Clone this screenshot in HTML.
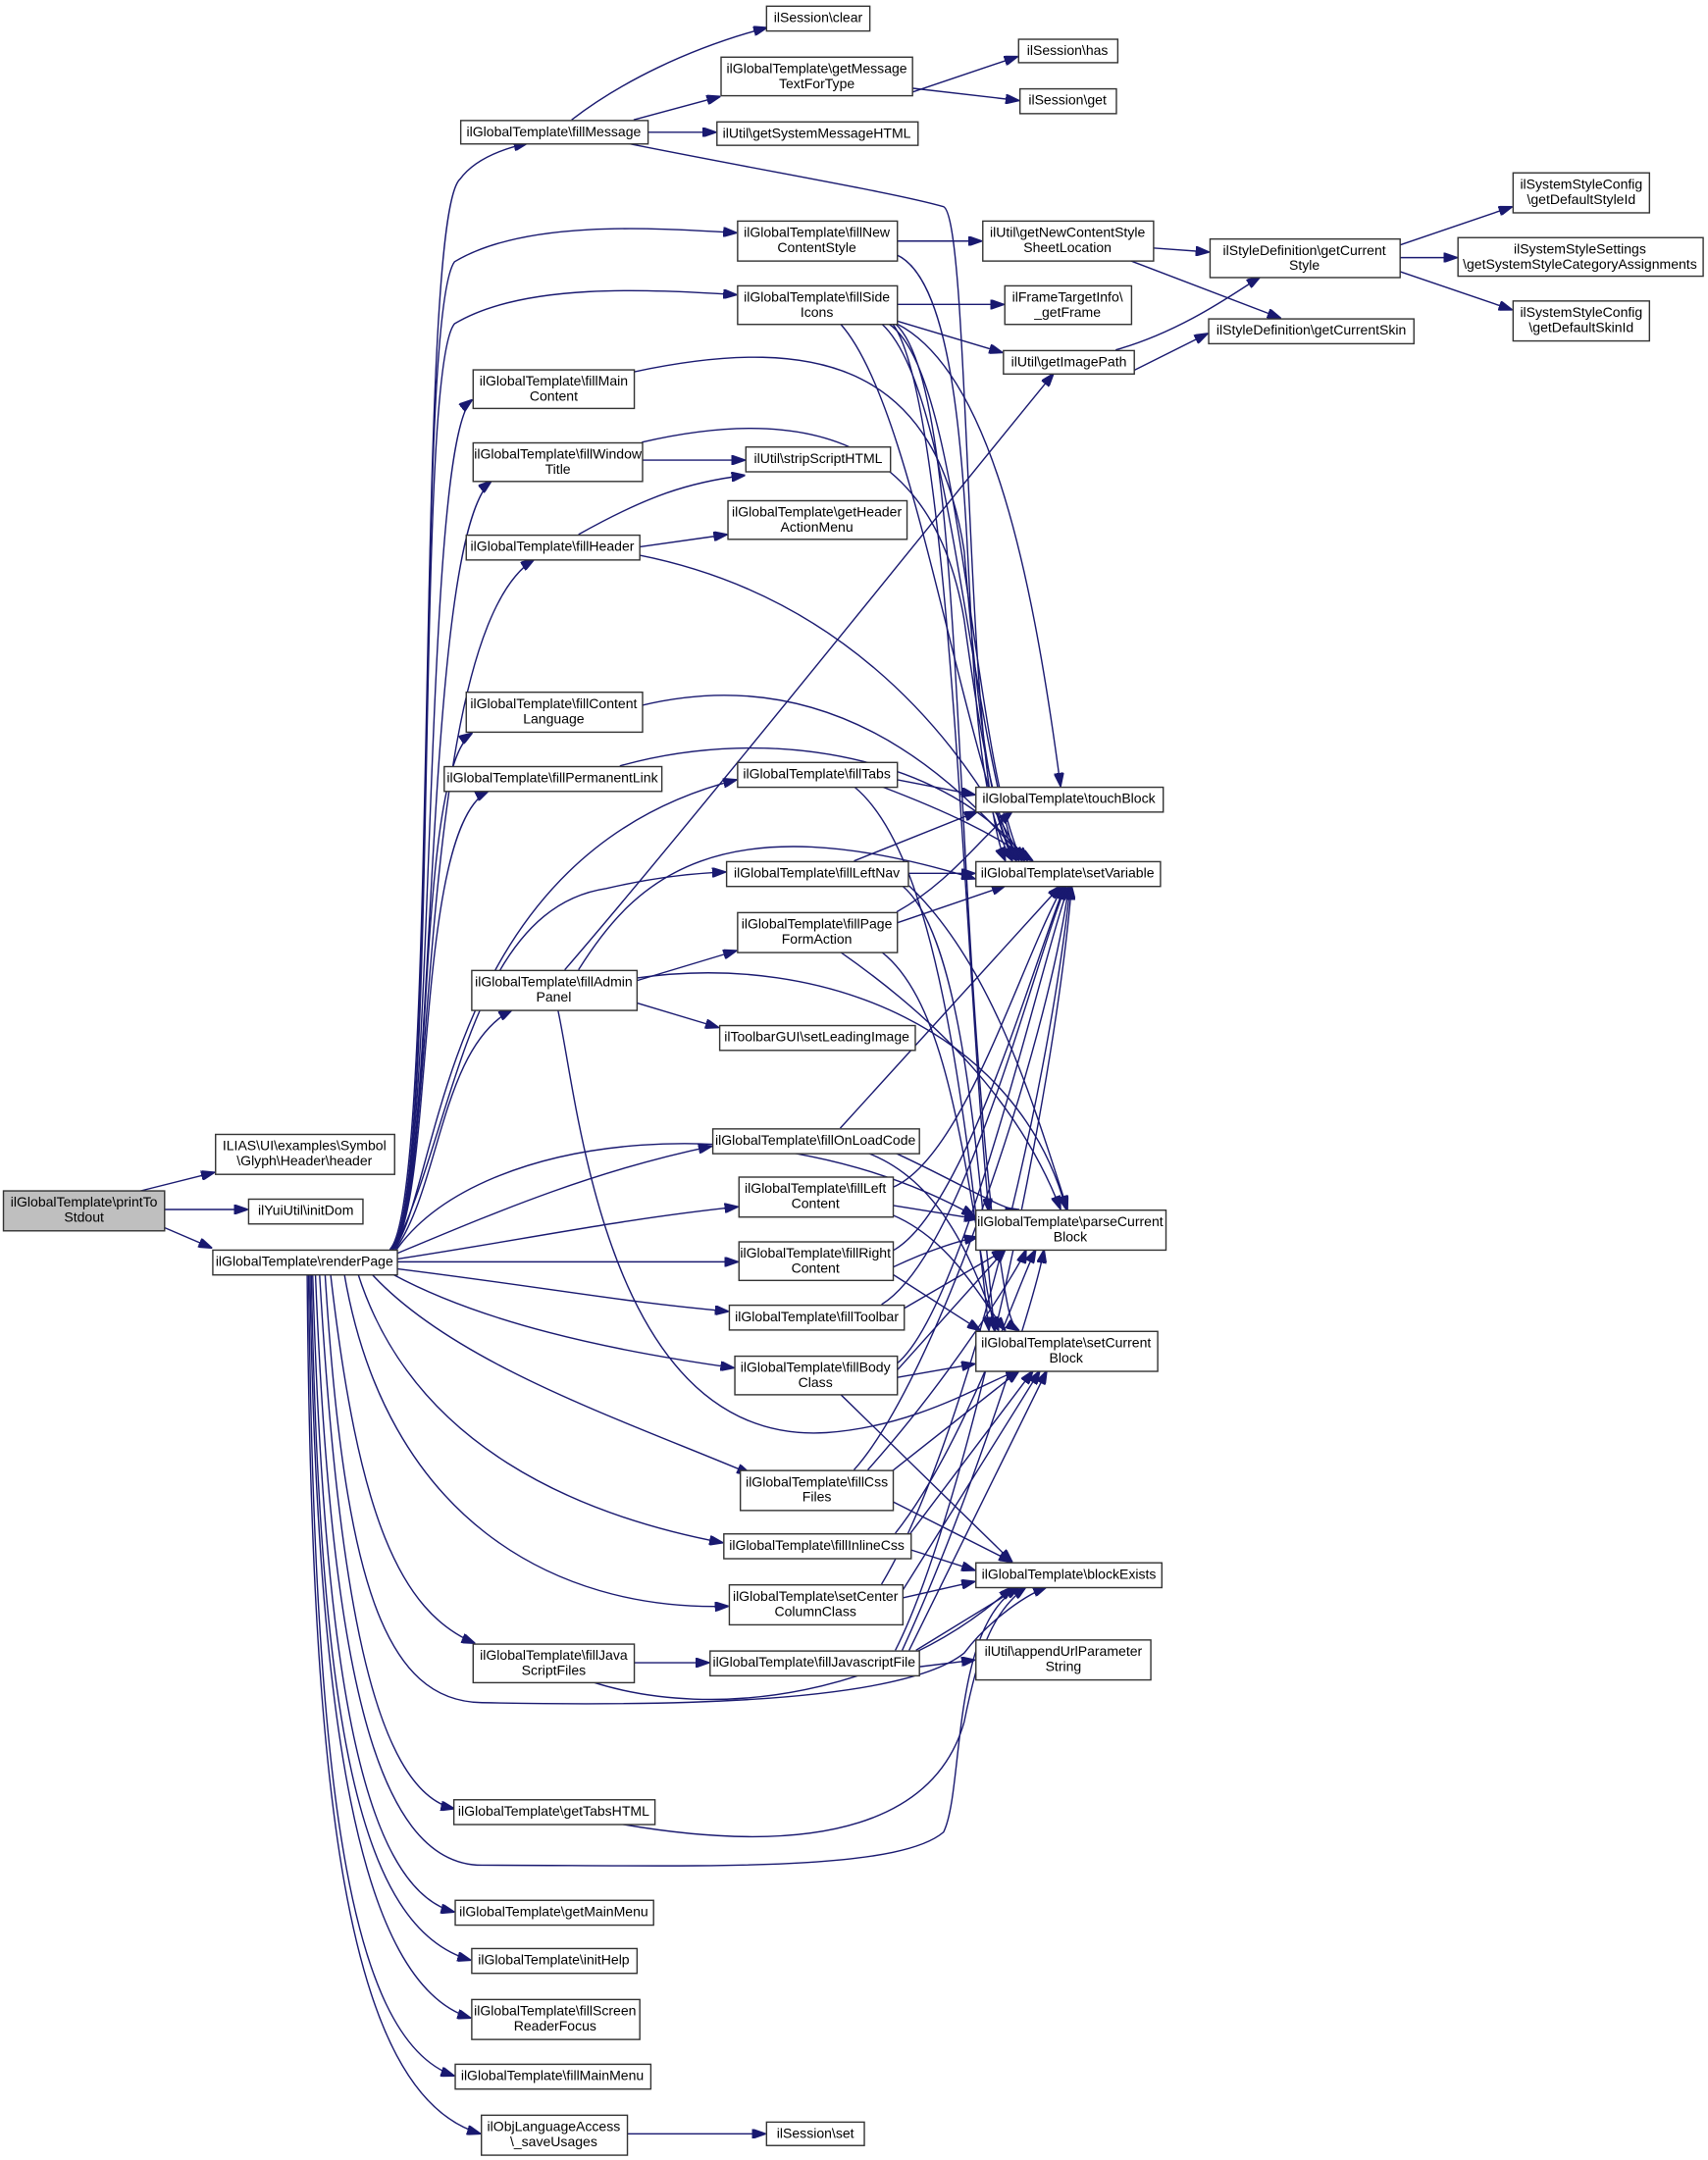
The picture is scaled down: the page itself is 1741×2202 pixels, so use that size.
<!DOCTYPE html>
<html><head><meta charset="utf-8"><style>
html,body{margin:0;padding:0;background:#fff;}
svg{display:block;}
text{font-family:"Liberation Sans",Arial,sans-serif;font-size:10px;fill:#000;}
.n{fill:#fff;stroke:#333;stroke-width:1;}
.e{fill:none;stroke:#191970;stroke-width:1;}
</style></head><body>
<svg width="1741" height="2202" viewBox="0 0 1240 1568" preserveAspectRatio="none" xmlns="http://www.w3.org/2000/svg">
<defs><marker id="a" markerWidth="10" markerHeight="7" refX="10" refY="3.5" orient="auto" markerUnits="userSpaceOnUse"><path d="M0,0 L10,3.5 L0,7 z" fill="#191970" stroke="#191970"/></marker></defs>
<g class="e" marker-end="url(#a)">
<!-- printToStdout -->
<path d="M100,865 L156,851"/>
<path d="M119,878 L180,878"/>
<path d="M119,891 L154,906"/>
<!-- renderPage upward -->
<path d="M283,907 C320,870 300,160 334,130 C345,115 365,108 383,104"/>
<path d="M284,907 C320,870 300,230 330,190 C380,160 470,165 535,169"/>
<path d="M284,907 C320,870 300,270 330,235 C380,205 470,210 535,214"/>
<path d="M285,907 C318,870 305,320 343,290"/>
<path d="M285,907 C318,870 305,390 357,349"/>
<path d="M285,907 C318,870 300,460 388,406"/>
<path d="M285,907 C316,870 300,560 343,532"/>
<path d="M285,907 C316,870 300,600 355,574"/>
<path d="M286,907 C320,860 320,620 535,566"/>
<path d="M286,907 C330,820 340,660 440,645 C470,638 500,634 527,633"/>
<path d="M287,907 C320,860 320,760 372,733"/>
<path d="M288,907 C350,820 560,800 708,883"/>
<path d="M288,910 C360,880 430,850 517,832"/>
<path d="M288,914 C380,900 450,885 536,876"/>
<path d="M288,916 L536,916"/>
<path d="M288,921 C400,935 450,945 529,952"/>
<path d="M285,925 C350,960 440,980 533,993"/>
<path d="M270,925 C330,990 450,1030 545,1070"/>
<path d="M260,925 C300,1050 420,1100 525,1120"/>
<path d="M250,925 C280,1100 400,1170 529,1166"/>
<path d="M240,925 C260,1100 290,1170 345,1193"/>
<path d="M236,925 C250,1150 280,1235 350,1236 C450,1238 650,1240 700,1200 C715,1180 740,1160 760,1152"/>
<path d="M232,925 C245,1150 270,1300 330,1313"/>
<path d="M229,925 C240,1200 270,1354 350,1354 C500,1354 650,1360 685,1330 C700,1300 690,1180 740,1152"/>
<path d="M227,925 C235,1200 260,1370 330,1388"/>
<path d="M226,925 C232,1250 260,1400 342,1423"/>
<path d="M225,925 C230,1250 260,1440 342,1465"/>
<path d="M224,925 C228,1280 250,1480 330,1507"/>
<path d="M223,925 C226,1300 250,1520 349,1549"/>
<!-- fillMessage -->
<path d="M415,87 C450,60 500,35 557,20"/>
<path d="M460,87 L523,70"/>
<path d="M470,96 L520,96"/>
<path d="M455,104 C560,125 650,140 685,150 C705,160 700,560 730,625"/>
<path d="M662,67 L739,41"/>
<path d="M662,64 L740,73"/>
<!-- fillNewContentStyle -->
<path d="M651,175 L713,175"/>
<path d="M651,185 C695,205 700,350 705,450 C710,560 720,600 735,625"/>
<path d="M837,180 L878,183"/>
<path d="M820,189 L930,231"/>
<!-- fillSideIcons -->
<path d="M651,221 L729,221"/>
<path d="M651,233 L728,256"/>
<path d="M651,235 C720,270 750,420 770,571"/>
<path d="M610,235 C660,290 690,500 735,625"/>
<path d="M640,235 C690,280 700,500 738,625"/>
<path d="M645,235 C700,270 705,550 742,625"/>
<path d="M650,235 C700,280 690,600 720,880 C730,930 730,960 740,966"/>
<path d="M648,235 C690,290 700,700 718,880"/>
<path d="M810,254 C860,240 900,210 915,201"/>
<path d="M823,269 L877,242"/>
<!-- getCurrentStyle -->
<path d="M1016,178 L1098,150"/>
<path d="M1016,187 L1058,187"/>
<path d="M1016,197 L1098,225"/>
<!-- col2 -->
<path d="M460,270 C600,240 680,270 700,400 C710,520 720,600 738,625"/>
<path d="M466,334 L541,334"/>
<path d="M466,321 C600,290 680,330 700,450 C715,560 725,600 740,625"/>
<path d="M420,388 C470,360 500,350 541,345"/>
<path d="M464,397 L528,388"/>
<path d="M464,403 C600,430 690,520 742,625"/>
<path d="M466,512 C600,480 690,560 744,625"/>
<path d="M450,556 C560,525 690,550 746,625"/>
<!-- fillTabs -->
<path d="M651,566 L708,577"/>
<path d="M640,571 C690,590 720,605 750,625"/>
<path d="M620,571 C680,620 700,800 718,966"/>
<!-- fillLeftNav -->
<path d="M620,625 L710,589"/>
<path d="M659,634 L708,634"/>
<path d="M660,643 C720,700 750,800 775,878"/>
<path d="M655,643 C700,680 710,850 722,966"/>
<!-- fillPageFormAction -->
<path d="M651,670 L730,643"/>
<path d="M651,662 C690,640 710,610 735,589"/>
<path d="M610,691 C680,740 740,800 770,878"/>
<path d="M640,691 C690,730 700,850 722,966"/>
<!-- fillAdminPanel -->
<path d="M462,712 L535,690"/>
<path d="M462,728 L522,746"/>
<path d="M410,704 C500,600 700,350 765,271"/>
<path d="M420,704 C460,640 520,580 708,638"/>
<path d="M462,710 C600,690 740,750 774,878"/>
<path d="M405,733 C420,800 440,1050 600,1040 C670,1035 720,1000 740,995"/>
<!-- fillOnLoadCode -->
<path d="M610,819 L770,643"/>
<path d="M650,837 C700,860 730,880 740,878"/>
<path d="M630,837 C690,860 710,930 725,966"/>
<!-- fillLeftContent -->
<path d="M648,862 C700,840 740,700 772,643"/>
<path d="M648,875 L710,885"/>
<path d="M648,882 C690,900 710,940 730,966"/>
<!-- fillRightContent -->
<path d="M648,908 C700,880 750,700 773,643"/>
<path d="M648,920 C680,905 700,900 710,898"/>
<path d="M648,925 L712,966"/>
<!-- fillToolbar -->
<path d="M640,947 C700,910 750,700 774,643"/>
<path d="M656,950 L730,907"/>
<!-- fillBodyClass -->
<path d="M651,990 C700,950 755,700 776,643"/>
<path d="M651,995 L730,907"/>
<path d="M651,1000 L708,990"/>
<path d="M610,1012 L735,1134"/>
<!-- fillCssFiles -->
<path d="M620,1067 C680,1000 760,760 776,643"/>
<path d="M630,1067 C690,1000 740,920 745,907"/>
<path d="M645,1070 L740,995"/>
<path d="M648,1090 L735,1134"/>
<!-- fillInlineCss -->
<path d="M661,1113 L750,995"/>
<path d="M650,1113 C700,1050 740,930 752,907"/>
<path d="M661,1125 L708,1140"/>
<!-- setCenterColumnClass -->
<path d="M640,1150 C700,1050 760,800 777,643"/>
<path d="M655,1160 L708,1148"/>
<path d="M655,1155 L755,995"/>
<!-- fillJavascriptFile -->
<path d="M667,1210 L708,1205"/>
<path d="M650,1198 C700,1100 765,800 778,643"/>
<path d="M655,1198 C700,1100 750,950 758,907"/>
<path d="M660,1198 L760,995"/>
<path d="M665,1198 L740,1152"/>
<!-- fillJavaScriptFiles -->
<path d="M460,1207 L515,1207"/>
<path d="M430,1221 C520,1250 650,1230 735,1152"/>
<!-- getTabsHTML -->
<path d="M450,1324 C600,1350 680,1320 700,1250 C710,1200 720,1170 745,1152"/>
<!-- saveUsages -->
<path d="M455,1549 L556,1549"/>
</g>
<g>
<rect x="2.5" y="864.5" width="117" height="29" fill="#bfbfbf" stroke="#333"/>
<text x="61" y="876" text-anchor="middle">ilGlobalTemplate\printTo</text><text x="61" y="887" text-anchor="middle">Stdout</text>
<rect class="n" x="156.5" y="823.5" width="130" height="29"/><text x="221" y="835" text-anchor="middle">ILIAS\UI\examples\Symbol</text><text x="221" y="846" text-anchor="middle">\Glyph\Header\header</text>
<rect class="n" x="180.5" y="870.5" width="83" height="18"/><text x="222" y="882" text-anchor="middle">ilYuiUtil\initDom</text>
<rect class="n" x="154.5" y="907.5" width="134" height="18"/><text x="221" y="919" text-anchor="middle">ilGlobalTemplate\renderPage</text>

<rect class="n" x="334.5" y="87.5" width="136" height="17"/><text x="402" y="99" text-anchor="middle">ilGlobalTemplate\fillMessage</text>
<rect class="n" x="343.5" y="268.5" width="117" height="28"/><text x="402" y="280" text-anchor="middle">ilGlobalTemplate\fillMain</text><text x="402" y="291" text-anchor="middle">Content</text>
<rect class="n" x="343.5" y="321.5" width="123" height="28"/><text x="405" y="333" text-anchor="middle">ilGlobalTemplate\fillWindow</text><text x="405" y="344" text-anchor="middle">Title</text>
<rect class="n" x="338.5" y="388.5" width="126" height="18"/><text x="401" y="400" text-anchor="middle">ilGlobalTemplate\fillHeader</text>
<rect class="n" x="338.5" y="502.5" width="128" height="29"/><text x="402" y="514" text-anchor="middle">ilGlobalTemplate\fillContent</text><text x="402" y="525" text-anchor="middle">Language</text>
<rect class="n" x="322.5" y="556.5" width="158" height="18"/><text x="401" y="568" text-anchor="middle">ilGlobalTemplate\fillPermanentLink</text>
<rect class="n" x="342.5" y="704.5" width="120" height="29"/><text x="402" y="716" text-anchor="middle">ilGlobalTemplate\fillAdmin</text><text x="402" y="727" text-anchor="middle">Panel</text>
<rect class="n" x="343.5" y="1193.5" width="117" height="28"/><text x="402" y="1205" text-anchor="middle">ilGlobalTemplate\fillJava</text><text x="402" y="1216" text-anchor="middle">ScriptFiles</text>
<rect class="n" x="329.5" y="1306.5" width="146" height="18"/><text x="402" y="1318" text-anchor="middle">ilGlobalTemplate\getTabsHTML</text>
<rect class="n" x="330.5" y="1379.5" width="144" height="18"/><text x="402" y="1391" text-anchor="middle">ilGlobalTemplate\getMainMenu</text>
<rect class="n" x="342.5" y="1414.5" width="120" height="18"/><text x="402" y="1426" text-anchor="middle">ilGlobalTemplate\initHelp</text>
<rect class="n" x="342.5" y="1451.5" width="122" height="29"/><text x="403" y="1463" text-anchor="middle">ilGlobalTemplate\fillScreen</text><text x="403" y="1474" text-anchor="middle">ReaderFocus</text>
<rect class="n" x="330.5" y="1498.5" width="142" height="18"/><text x="401" y="1510" text-anchor="middle">ilGlobalTemplate\fillMainMenu</text>
<rect class="n" x="349.5" y="1535.5" width="106" height="29"/><text x="402" y="1547" text-anchor="middle">ilObjLanguageAccess</text><text x="402" y="1558" text-anchor="middle">\_saveUsages</text>

<rect class="n" x="556.5" y="4.5" width="75" height="18"/><text x="594" y="16" text-anchor="middle">ilSession\clear</text>
<rect class="n" x="523.5" y="41.5" width="139" height="28"/><text x="593" y="53" text-anchor="middle">ilGlobalTemplate\getMessage</text><text x="593" y="64" text-anchor="middle">TextForType</text>
<rect class="n" x="520.5" y="88.5" width="146" height="17"/><text x="593" y="100" text-anchor="middle">ilUtil\getSystemMessageHTML</text>
<rect class="n" x="535.5" y="160.5" width="116" height="29"/><text x="593" y="172" text-anchor="middle">ilGlobalTemplate\fillNew</text><text x="593" y="183" text-anchor="middle">ContentStyle</text>
<rect class="n" x="535.5" y="207.5" width="116" height="28"/><text x="593" y="219" text-anchor="middle">ilGlobalTemplate\fillSide</text><text x="593" y="230" text-anchor="middle">Icons</text>
<rect class="n" x="541.5" y="324.5" width="105" height="18"/><text x="594" y="336" text-anchor="middle">ilUtil\stripScriptHTML</text>
<rect class="n" x="528.5" y="363.5" width="130" height="28"/><text x="593" y="375" text-anchor="middle">ilGlobalTemplate\getHeader</text><text x="593" y="386" text-anchor="middle">ActionMenu</text>
<rect class="n" x="535.5" y="553.5" width="116" height="18"/><text x="593" y="565" text-anchor="middle">ilGlobalTemplate\fillTabs</text>
<rect class="n" x="527.5" y="625.5" width="132" height="18"/><text x="593" y="637" text-anchor="middle">ilGlobalTemplate\fillLeftNav</text>
<rect class="n" x="535.5" y="662.5" width="116" height="29"/><text x="593" y="674" text-anchor="middle">ilGlobalTemplate\fillPage</text><text x="593" y="685" text-anchor="middle">FormAction</text>
<rect class="n" x="522.5" y="744.5" width="142" height="18"/><text x="593" y="756" text-anchor="middle">ilToolbarGUI\setLeadingImage</text>
<rect class="n" x="517.5" y="819.5" width="150" height="18"/><text x="592" y="831" text-anchor="middle">ilGlobalTemplate\fillOnLoadCode</text>
<rect class="n" x="536.5" y="854.5" width="112" height="29"/><text x="592" y="866" text-anchor="middle">ilGlobalTemplate\fillLeft</text><text x="592" y="877" text-anchor="middle">Content</text>
<rect class="n" x="536.5" y="901.5" width="112" height="28"/><text x="592" y="913" text-anchor="middle">ilGlobalTemplate\fillRight</text><text x="592" y="924" text-anchor="middle">Content</text>
<rect class="n" x="529.5" y="947.5" width="127" height="18"/><text x="593" y="959" text-anchor="middle">ilGlobalTemplate\fillToolbar</text>
<rect class="n" x="533.5" y="984.5" width="118" height="28"/><text x="592" y="996" text-anchor="middle">ilGlobalTemplate\fillBody</text><text x="592" y="1007" text-anchor="middle">Class</text>
<rect class="n" x="537.5" y="1067.5" width="111" height="29"/><text x="593" y="1079" text-anchor="middle">ilGlobalTemplate\fillCss</text><text x="593" y="1090" text-anchor="middle">Files</text>
<rect class="n" x="525.5" y="1113.5" width="136" height="18"/><text x="593" y="1125" text-anchor="middle">ilGlobalTemplate\fillInlineCss</text>
<rect class="n" x="529.5" y="1150.5" width="126" height="29"/><text x="592" y="1162" text-anchor="middle">ilGlobalTemplate\setCenter</text><text x="592" y="1173" text-anchor="middle">ColumnClass</text>
<rect class="n" x="515.5" y="1198.5" width="152" height="18"/><text x="591" y="1210" text-anchor="middle">ilGlobalTemplate\fillJavascriptFile</text>
<rect class="n" x="556.5" y="1540.5" width="71" height="17"/><text x="592" y="1552" text-anchor="middle">ilSession\set</text>

<rect class="n" x="739.5" y="28.5" width="72" height="17"/><text x="775" y="40" text-anchor="middle">ilSession\has</text>
<rect class="n" x="740.5" y="64.5" width="70" height="18"/><text x="775" y="76" text-anchor="middle">ilSession\get</text>
<rect class="n" x="713.5" y="160.5" width="124" height="29"/><text x="775" y="172" text-anchor="middle">ilUtil\getNewContentStyle</text><text x="775" y="183" text-anchor="middle">SheetLocation</text>
<rect class="n" x="729.5" y="207.5" width="92" height="28"/><text x="775" y="219" text-anchor="middle">ilFrameTargetInfo\</text><text x="775" y="230" text-anchor="middle">_getFrame</text>
<rect class="n" x="728.5" y="254.5" width="95" height="17"/><text x="776" y="266" text-anchor="middle">ilUtil\getImagePath</text>
<rect class="n" x="708.5" y="571.5" width="136" height="18"/><text x="776" y="583" text-anchor="middle">ilGlobalTemplate\touchBlock</text>
<rect class="n" x="708.5" y="625.5" width="134" height="18"/><text x="775" y="637" text-anchor="middle">ilGlobalTemplate\setVariable</text>
<rect class="n" x="708.5" y="878.5" width="138" height="29"/><text x="777" y="890" text-anchor="middle">ilGlobalTemplate\parseCurrent</text><text x="777" y="901" text-anchor="middle">Block</text>
<rect class="n" x="708.5" y="966.5" width="132" height="29"/><text x="774" y="978" text-anchor="middle">ilGlobalTemplate\setCurrent</text><text x="774" y="989" text-anchor="middle">Block</text>
<rect class="n" x="708.5" y="1134.5" width="135" height="18"/><text x="776" y="1146" text-anchor="middle">ilGlobalTemplate\blockExists</text>
<rect class="n" x="708.5" y="1190.5" width="127" height="29"/><text x="772" y="1202" text-anchor="middle">ilUtil\appendUrlParameter</text><text x="772" y="1213" text-anchor="middle">String</text>

<rect class="n" x="878.5" y="173.5" width="138" height="28"/><text x="947" y="185" text-anchor="middle">ilStyleDefinition\getCurrent</text><text x="947" y="196" text-anchor="middle">Style</text>
<rect class="n" x="877.5" y="231.5" width="149" height="18"/><text x="952" y="243" text-anchor="middle">ilStyleDefinition\getCurrentSkin</text>
<rect class="n" x="1098.5" y="125.5" width="99" height="29"/><text x="1148" y="137" text-anchor="middle">ilSystemStyleConfig</text><text x="1148" y="148" text-anchor="middle">\getDefaultStyleId</text>
<rect class="n" x="1058.5" y="172.5" width="178" height="28"/><text x="1147" y="184" text-anchor="middle">ilSystemStyleSettings</text><text x="1147" y="195" text-anchor="middle">\getSystemStyleCategoryAssignments</text>
<rect class="n" x="1098.5" y="218.5" width="99" height="29"/><text x="1148" y="230" text-anchor="middle">ilSystemStyleConfig</text><text x="1148" y="241" text-anchor="middle">\getDefaultSkinId</text>
</g>
</svg>
</body></html>
